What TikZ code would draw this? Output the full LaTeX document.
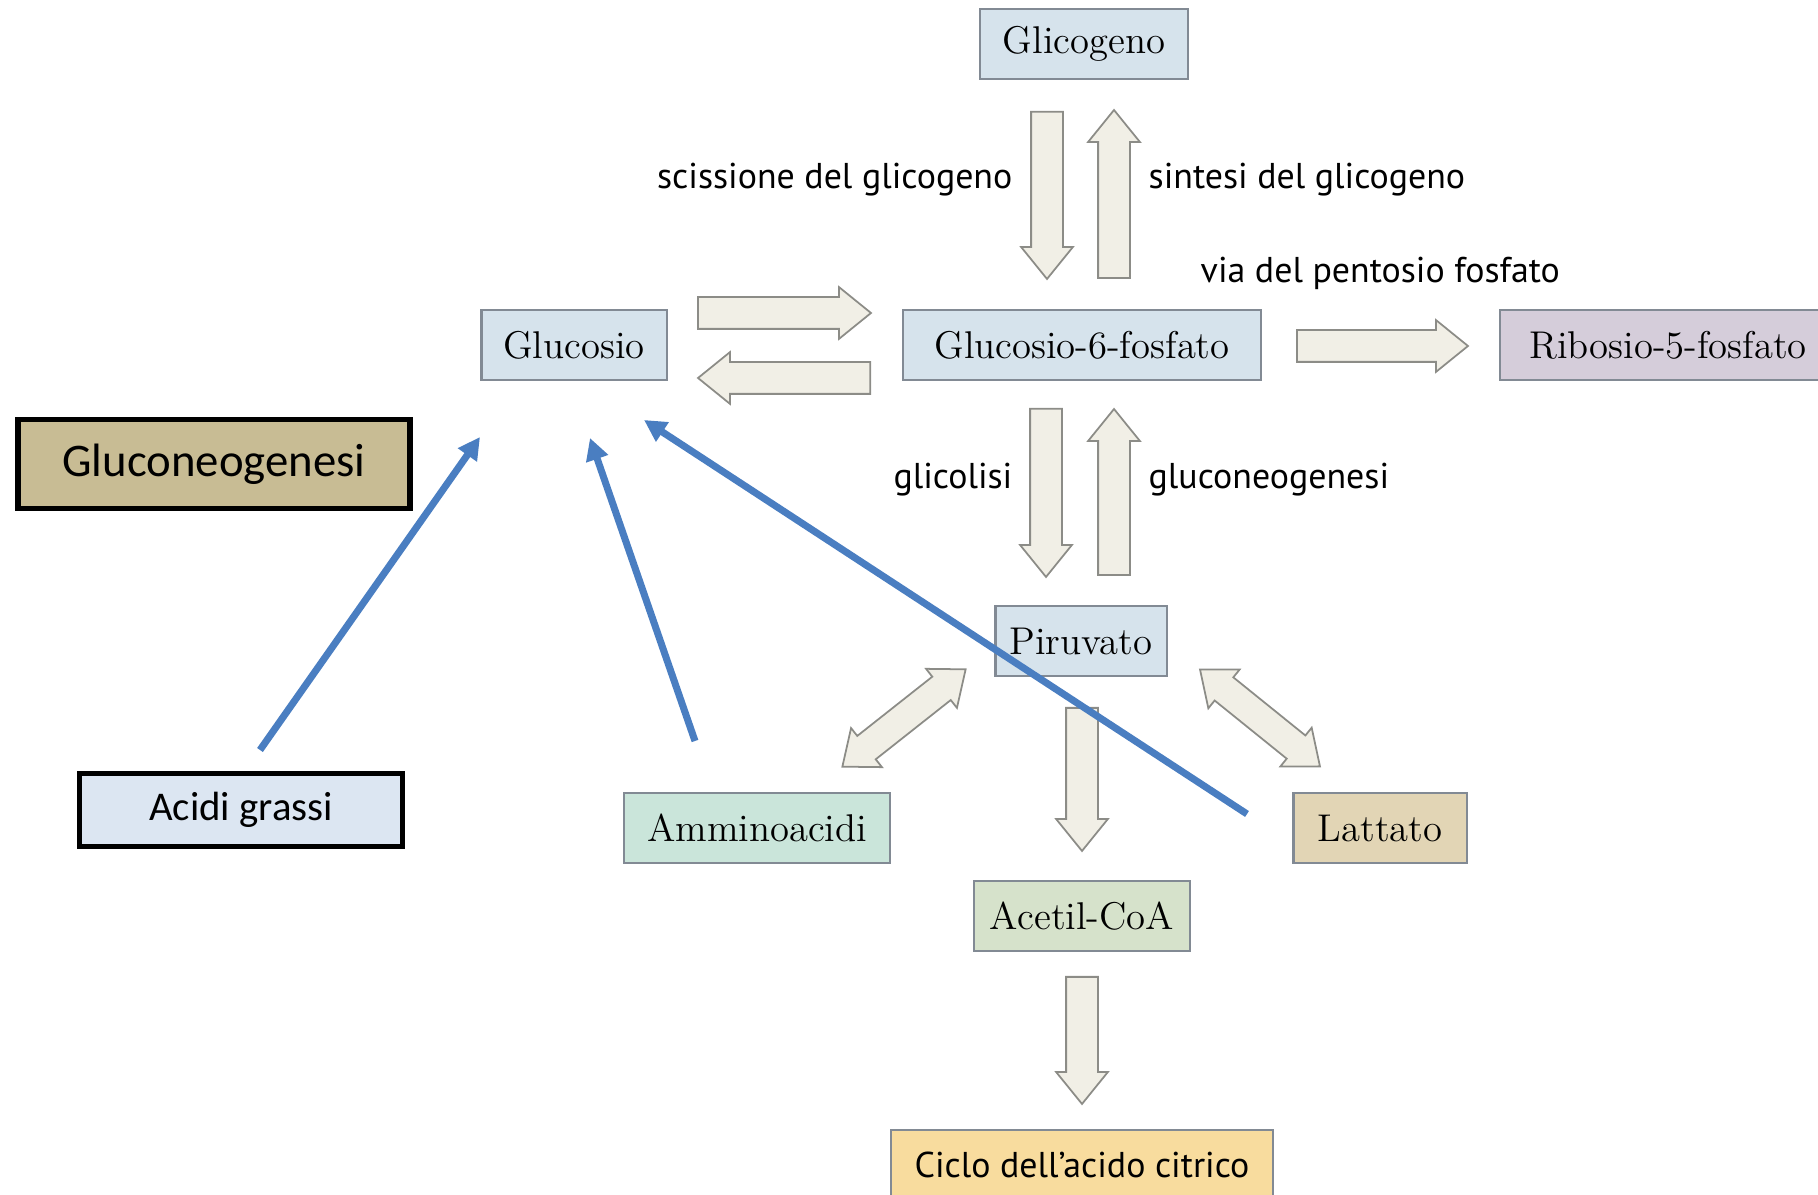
\documentclass[tikz,border=0pt]{standalone}
\usepackage{fontspec}
\newfontfamily\labelfont{PT Sans}
\newfontfamily\keyfont{Carlito}
\usetikzlibrary{shapes.arrows,arrows.meta}
\definecolor{boxline}{RGB}{130,138,148}
\definecolor{bluebox}{RGB}{214,227,236}
\definecolor{violetbox}{RGB}{213,205,218}
\definecolor{mintbox}{RGB}{202,229,218}
\definecolor{tanbox}{RGB}{226,213,181}
\definecolor{sagebox}{RGB}{214,226,203}
\definecolor{orangebox}{RGB}{248,220,158}
\definecolor{keytan}{RGB}{200,188,148}
\definecolor{keyblue}{RGB}{220,230,242}
\definecolor{flowfill}{RGB}{241,239,230}
\definecolor{flowline}{RGB}{140,140,135}
\definecolor{gnblue}{RGB}{74,126,193}

\begin{document}
\begin{tikzpicture}[x=0.01cm,y=-0.01cm,
    metabolite/.style={draw=boxline, line width=0.6pt, inner sep=0pt, minimum height=0.7cm, font=\fontsize{11}{13}\selectfont},
    keybox/.style={draw=black, line width=1.5pt, inner sep=0pt, font=\keyfont},
    pathlabel/.style={font=\labelfont\fontsize{10.2}{12}\selectfont, inner sep=0pt},
    flow/.style={single arrow, draw=flowline, fill=flowfill, line width=0.5pt, inner xsep=0pt, inner ysep=0.15cm,
      single arrow head extend=0.1cm, single arrow tip angle=78, anchor=tail},
    bothflow/.style={double arrow, draw=flowline, fill=flowfill, line width=0.5pt, inner xsep=0pt, inner ysep=0.14cm,
      double arrow head extend=0.1cm, double arrow tip angle=78},
    supply/.style={draw=gnblue, line width=2pt, -{Triangle[length=0.22cm,width=0.22cm]}}]
   \useasboundingbox (0,0) rectangle (1818,1195);
   % metabolites
   \node[metabolite, fill=bluebox, minimum width=2.08cm] (glicogeno) at (1084,44) {Glicogeno};
   \node[metabolite, fill=bluebox, minimum width=1.85cm] (glucosio) at (574,345) {Glucosio};
   \node[metabolite, fill=bluebox, minimum width=3.57cm] (g6p) at (1082,345) {Glucosio-6-fosfato};
   \node[metabolite, fill=violetbox, minimum width=3.36cm] (ribosio) at (1668,345) {Ribosio-5-fosfato};
   \node[metabolite, fill=bluebox, minimum width=1.71cm] (piruvato) at (1081,641) {Piruvato};
   \node[metabolite, fill=mintbox, minimum width=2.65cm] (ammino) at (757,828) {Amminoacidi};
   \node[metabolite, fill=tanbox, minimum width=1.73cm] (lattato) at (1380,828) {Lattato};
   \node[metabolite, fill=sagebox, minimum width=2.16cm] (acetil) at (1082,916) {Acetil-CoA};
   \node[metabolite, fill=orangebox, minimum width=3.81cm, font=\labelfont\fontsize{10.2}{12}\selectfont] (ciclo) at (1082,1165) {Ciclo dell’acido citrico};
   % key boxes
   \node[keybox, fill=keytan, minimum width=3.92cm, minimum height=0.89cm, font=\keyfont\fontsize{13.3}{15}\selectfont] (gluconeo) at (214,464) {Gluconeogenesi};
   \node[keybox, fill=keyblue, minimum width=3.23cm, minimum height=0.73cm, font=\keyfont\fontsize{11.6}{14}\selectfont] (acidi) at (241,810) {Acidi grassi};
   % block arrows
   \node[flow, minimum height=1.67cm, rotate=-90] (scissione) at (1047,111) {};
   \node[flow, minimum height=1.68cm, rotate=90] (sintesi) at (1114,279) {};
   \node[flow, minimum height=1.73cm] (fosforila) at (697,313) {};
   \node[flow, minimum height=1.72cm, rotate=180] (defosforila) at (871,378) {};
   \node[flow, minimum height=1.71cm] (pentosio) at (1296,346) {};
   \node[flow, minimum height=1.68cm, rotate=-90] (glicolisi) at (1046,408) {};
   \node[flow, minimum height=1.66cm, rotate=90] (gng) at (1114,576) {};
   \node[flow, minimum height=1.43cm, rotate=-90] (ossida) at (1082,707) {};
   \node[flow, minimum height=1.27cm, rotate=-90] (krebs) at (1082,976) {};
   \node[bothflow, minimum height=1.57cm, rotate=38.3] (transamina) at (904,718) {};
   \node[bothflow, minimum height=1.54cm, rotate=-38.9] (riduce) at (1260,718) {};
   % labels
   \node[pathlabel, anchor=east] (lscissione) at (1013,180) {scissione del glicogeno};
   \node[pathlabel, anchor=west] (lsintesi) at (1148,180) {sintesi del glicogeno};
   \node[pathlabel, anchor=west] (lpentosio) at (1200,273) {via del pentosio fosfato};
   \node[pathlabel, anchor=east] (lglicolisi) at (1013,480) {glicolisi};
   \node[pathlabel, anchor=west] (lgng) at (1148,480) {gluconeogenesi};
   % gluconeogenesis sources
   \coordinate (acidi out) at (260,750);
   \coordinate (ammino out) at (695,741);
   \coordinate (lattato out) at (1247,814);
   \coordinate (glucosio in1) at (480,437);
   \coordinate (glucosio in2) at (590,438);
   \coordinate (glucosio in3) at (644,420);
   \draw[supply] (acidi out) -- (glucosio in1);
   \draw[supply] (ammino out) -- (glucosio in2);
   \draw[supply] (lattato out) -- (glucosio in3);
\end{tikzpicture}
\end{document}
